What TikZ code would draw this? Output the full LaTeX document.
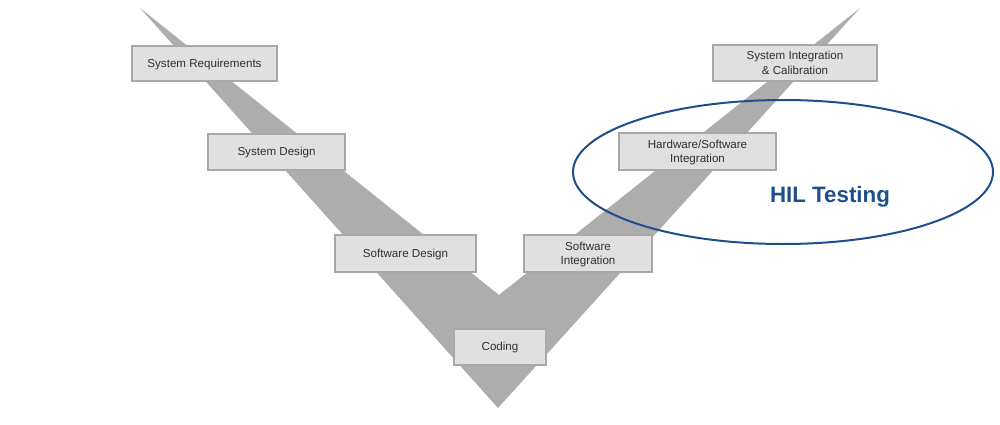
\documentclass[tikz,border=0pt]{standalone}
\usepackage{fontspec}
\setmainfont{Liberation Sans}
\definecolor{vgray}{HTML}{ADADAD}
\definecolor{boxfill}{HTML}{E0E0E0}
\definecolor{boxline}{HTML}{A8A8A8}
\definecolor{boxtext}{HTML}{303030}
\definecolor{hilblue}{HTML}{1F4E8C}
\begin{document}
\begin{tikzpicture}[x=1pt,y=-1pt,
  stagebox/.style={draw=boxline,line width=1.5pt,fill=boxfill,text=boxtext,
    font=\fontsize{11.6}{14.5}\selectfont,align=center,inner sep=0pt,
    text depth=0.5pt},
]
\useasboundingbox (0,0) rectangle (1000,425);
% V shape
\fill[vgray] (140,8) -- (499,295) -- (860,8) -- (498,408) -- cycle;
% ellipse
\draw[hilblue,line width=2pt] (783,172) ellipse [x radius=210,y radius=72];
\node[text=hilblue,font=\fontsize{22.3}{26}\selectfont\bfseries] (hil) at (830,197) {HIL Testing};
% boxes
\node[stagebox,minimum width=145pt,minimum height=35pt] (sysreq) at (204.5,63.5) {System Requirements};
\node[stagebox,minimum width=137pt,minimum height=36pt] (sysdes) at (276.5,152) {System Design};
\node[stagebox,minimum width=141pt,minimum height=37pt] (swdes) at (405.5,253.5) {Software Design};
\node[stagebox,minimum width=92pt,minimum height=36pt] (coding) at (500,347) {Coding};
\node[stagebox,minimum width=128pt,minimum height=37pt] (swint) at (588,253.5) {Software\\Integration};
\node[stagebox,minimum width=157pt,minimum height=37pt] (hwsw) at (697.5,151.5) {Hardware/Software\\Integration};
\node[stagebox,minimum width=164pt,minimum height=36pt] (sysint) at (795,63) {System Integration\\\& Calibration};
\end{tikzpicture}
\end{document}
